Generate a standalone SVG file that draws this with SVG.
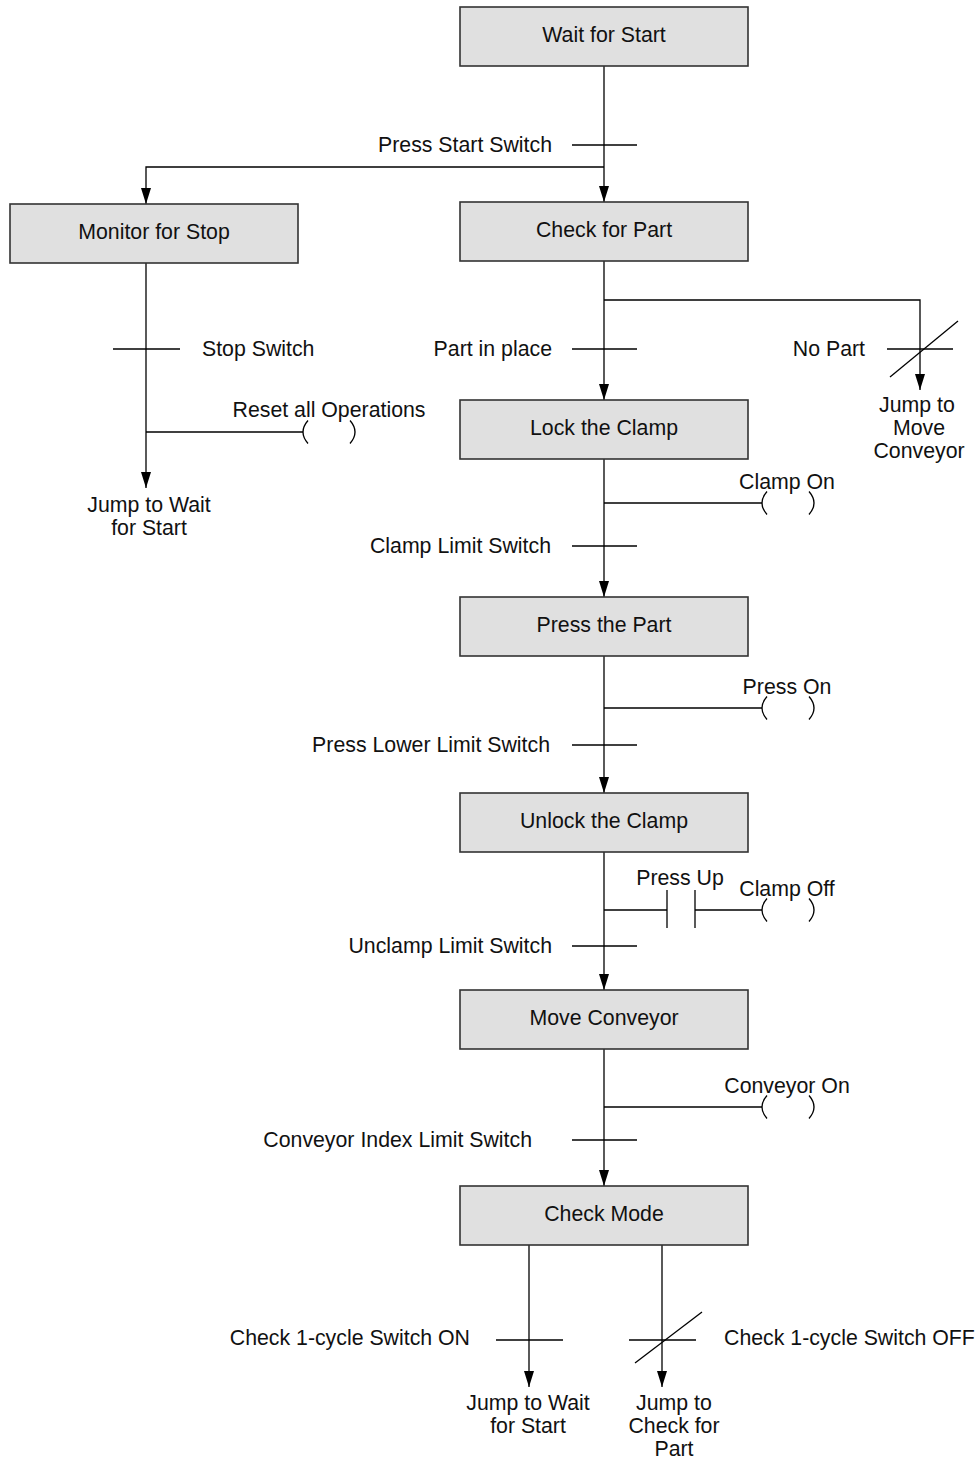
<svg xmlns="http://www.w3.org/2000/svg" xmlns:xlink="http://www.w3.org/1999/xlink" width="980" height="1459" viewBox="0 0 980 1459">
<style>
.box{fill:#e0e0e0;stroke:#333;stroke-width:1.6}
.ln{fill:none;stroke:#000;stroke-width:1.3}
.t{font-family:"Liberation Sans",Arial,sans-serif;font-size:21.3px;fill:#111}
.m{text-anchor:middle}
.e{text-anchor:end}
</style>
<defs>
<marker id="ah" markerUnits="userSpaceOnUse" markerWidth="18" markerHeight="12" viewBox="0 0 18 12" refX="17" refY="6" orient="auto">
<path d="M1,1 L17,6 L1,11 Z" fill="#000"/>
</marker>
<g id="coil" class="ln"><path d="M5,-11.5 Q-5,0 5,11.5"/><path d="M47,-11.5 Q57,0 47,11.5"/></g>
</defs>

<g id="connectors" class="ln">
<line x1="604" y1="66" x2="604" y2="202" marker-end="url(#ah)"/>
<polyline points="604,167 146,167 146,204" marker-end="url(#ah)"/>
<line x1="146" y1="263" x2="146" y2="488" marker-end="url(#ah)"/>
<line x1="604" y1="261" x2="604" y2="400" marker-end="url(#ah)"/>
<polyline points="604,300 920,300 920,390" marker-end="url(#ah)"/>
<line x1="604" y1="459" x2="604" y2="597" marker-end="url(#ah)"/>
<line x1="604" y1="656" x2="604" y2="793" marker-end="url(#ah)"/>
<line x1="604" y1="852" x2="604" y2="990" marker-end="url(#ah)"/>
<line x1="604" y1="1049" x2="604" y2="1186" marker-end="url(#ah)"/>
<line x1="529" y1="1245" x2="529" y2="1387" marker-end="url(#ah)"/>
<line x1="662" y1="1245" x2="662" y2="1387" marker-end="url(#ah)"/>
<line x1="572" y1="145" x2="637" y2="145"/>
<line x1="113" y1="349" x2="180" y2="349"/>
<line x1="572" y1="349" x2="637" y2="349"/>
<line x1="887" y1="349" x2="953" y2="349"/>
<line x1="890" y1="377" x2="958" y2="321"/>
<line x1="572" y1="546" x2="637" y2="546"/>
<line x1="572" y1="745" x2="637" y2="745"/>
<line x1="572" y1="946" x2="637" y2="946"/>
<line x1="572" y1="1140" x2="637" y2="1140"/>
<line x1="496" y1="1340" x2="563" y2="1340"/>
<line x1="629" y1="1340" x2="696" y2="1340"/>
<line x1="635" y1="1363" x2="702" y2="1312"/>
<line x1="146" y1="432" x2="303" y2="432"/>
<line x1="604" y1="503" x2="762" y2="503"/>
<line x1="604" y1="708" x2="762" y2="708"/>
<line x1="604" y1="910" x2="667" y2="910"/>
<line x1="667" y1="890" x2="667" y2="928"/>
<line x1="695" y1="890" x2="695" y2="928"/>
<line x1="695" y1="910" x2="762" y2="910"/>
<line x1="604" y1="1107" x2="762" y2="1107"/>
<use xlink:href="#coil" x="303" y="432"/>
<use xlink:href="#coil" x="762" y="503"/>
<use xlink:href="#coil" x="762" y="708"/>
<use xlink:href="#coil" x="762" y="910"/>
<use xlink:href="#coil" x="762" y="1107"/>
</g>

<g id="n-wait"><rect class="box" x="460" y="7" width="288" height="59"/><text class="t m" x="604" y="42">Wait for Start</text></g>
<g id="n-monitor"><rect class="box" x="10" y="204" width="288" height="59"/><text class="t m" x="154" y="239">Monitor for Stop</text></g>
<g id="n-check"><rect class="box" x="460" y="202" width="288" height="59"/><text class="t m" x="604" y="237">Check for Part</text></g>
<g id="n-lock"><rect class="box" x="460" y="400" width="288" height="59"/><text class="t m" x="604" y="435">Lock the Clamp</text></g>
<g id="n-press"><rect class="box" x="460" y="597" width="288" height="59"/><text class="t m" x="604" y="632">Press the Part</text></g>
<g id="n-unlock"><rect class="box" x="460" y="793" width="288" height="59"/><text class="t m" x="604" y="828">Unlock the Clamp</text></g>
<g id="n-move"><rect class="box" x="460" y="990" width="288" height="59"/><text class="t m" x="604" y="1025">Move Conveyor</text></g>
<g id="n-mode"><rect class="box" x="460" y="1186" width="288" height="59"/><text class="t m" x="604" y="1221">Check Mode</text></g>

<g id="labels">
<text class="t e" x="552" y="152">Press Start Switch</text>
<text class="t" x="202" y="356">Stop Switch</text>
<text class="t m" x="329" y="417">Reset all Operations</text>
<text class="t m" x="149" y="512">Jump to Wait</text>
<text class="t m" x="149" y="535">for Start</text>
<text class="t e" x="552" y="356">Part in place</text>
<text class="t e" x="865" y="356">No Part</text>
<text class="t m" x="917" y="412">Jump to</text>
<text class="t m" x="919" y="435">Move</text>
<text class="t m" x="919" y="458">Conveyor</text>
<text class="t m" x="787" y="489">Clamp On</text>
<text class="t e" x="551" y="553">Clamp Limit Switch</text>
<text class="t m" x="787" y="694">Press On</text>
<text class="t e" x="550" y="752">Press Lower Limit Switch</text>
<text class="t m" x="680" y="885">Press Up</text>
<text class="t m" x="787" y="896">Clamp Off</text>
<text class="t e" x="552" y="953">Unclamp Limit Switch</text>
<text class="t m" x="787" y="1093">Conveyor On</text>
<text class="t e" x="532" y="1147">Conveyor Index Limit Switch</text>
<text class="t e" x="470" y="1345">Check 1-cycle Switch ON</text>
<text class="t" x="724" y="1345">Check 1-cycle Switch OFF</text>
<text class="t m" x="528" y="1410">Jump to Wait</text>
<text class="t m" x="528" y="1433">for Start</text>
<text class="t m" x="674" y="1410">Jump to</text>
<text class="t m" x="674" y="1433">Check for</text>
<text class="t m" x="674" y="1456">Part</text>
</g>
</svg>
